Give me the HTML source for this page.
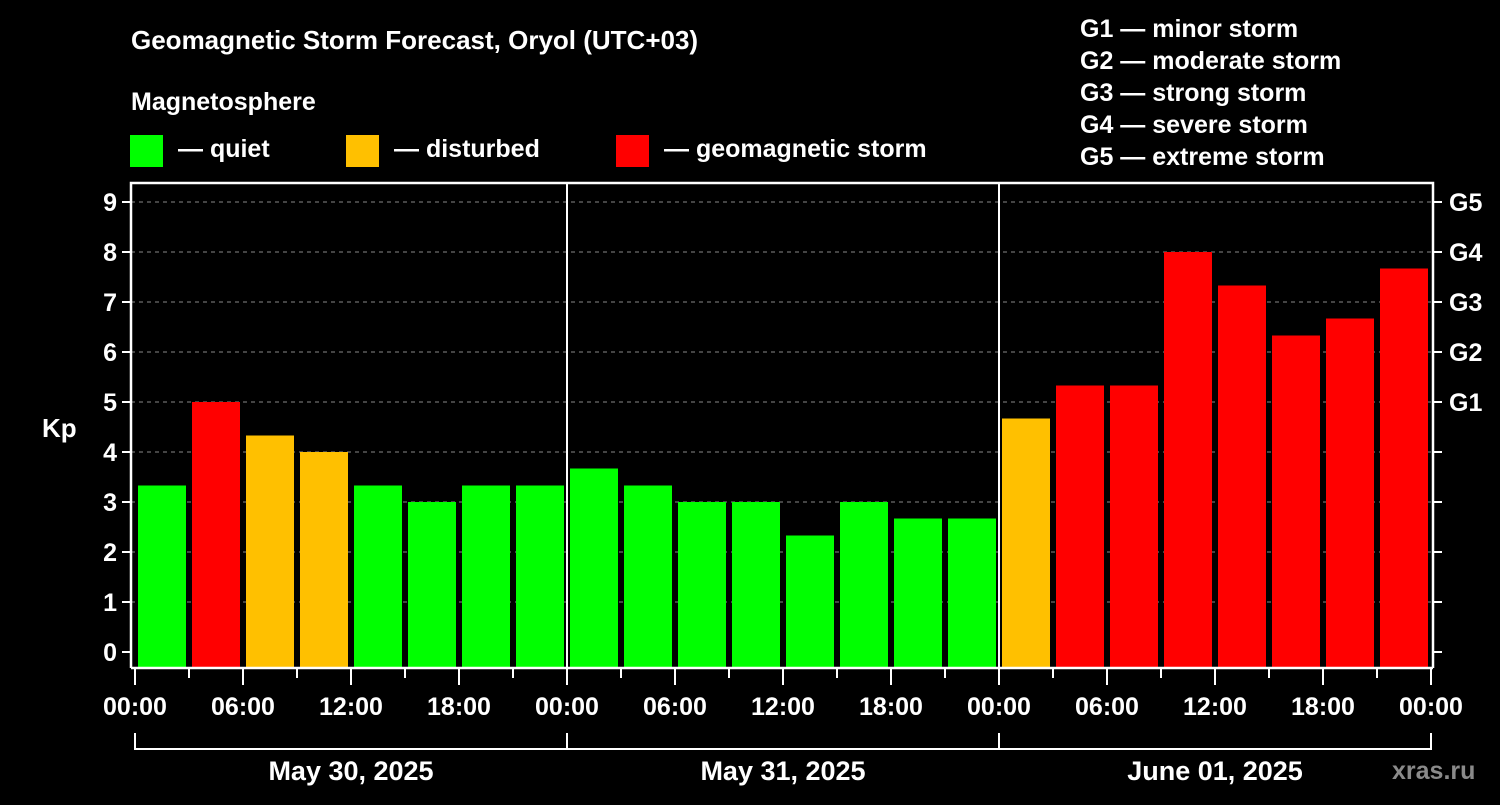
<!DOCTYPE html>
<html><head><meta charset="utf-8"><style>
body{margin:0;background:#000;width:1500px;height:800px;overflow:hidden}
svg text{font-family:"Liberation Sans",Arial,sans-serif;font-weight:bold;fill:#fff}
</style></head><body>
<svg id="c" width="1500" height="800" xmlns="http://www.w3.org/2000/svg">
<rect width="1500" height="800" fill="#000"/>
<text x="131" y="49" font-size="26">Geomagnetic Storm Forecast, Oryol (UTC+03)</text>
<text x="131" y="110" font-size="25">Magnetosphere</text>
<g><rect x="130" y="135" width="33" height="32" fill="#00ff00"/><text x="178" y="157" font-size="25">— quiet</text></g>
<g><rect x="346" y="135" width="33" height="32" fill="#ffc000"/><text x="394" y="157" font-size="25">— disturbed</text></g>
<g><rect x="616" y="135" width="33" height="32" fill="#ff0000"/><text x="664" y="157" font-size="25">— geomagnetic storm</text></g>
<g font-size="25">
<text x="1080" y="37">G1 — minor storm</text>
<text x="1080" y="69">G2 — moderate storm</text>
<text x="1080" y="101">G3 — strong storm</text>
<text x="1080" y="133">G4 — severe storm</text>
<text x="1080" y="165">G5 — extreme storm</text>
</g>
<text x="42" y="437" font-size="26">Kp</text>
<text x="1392" y="779" font-size="25" fill="#888" style="fill:#8a8a8a">xras.ru</text>
<g id="grid"></g><g id="bars"></g><g id="axes"></g>
</svg>
<script>
const kpValues=[3.33,5,4.33,4,3.33,3,3.33,3.33, 3.67,3.33,3,3,2.33,3,2.67,2.67, 4.67,5.33,5.33,8,7.33,6.33,6.67,7.67];
const yTicks=[0,1,2,3,4,5,6,7,8,9];
const gLabels=["","","","","","G1","G2","G3","G4","G5"];
const xTickLabels=["00:00","06:00","12:00","18:00","00:00","06:00","12:00","18:00","00:00","06:00","12:00","18:00","00:00"];
const dayLabels=["May 30, 2025","May 31, 2025","June 01, 2025"];
const NS="http://www.w3.org/2000/svg";
const L=131,R=1433,T=183,B=668,X0=135,HOURPX=18;
const y=v=>652-v*50;
const x=h=>X0+h*HOURPX;
function mk(tag,parent,attrs){const e=document.createElementNS(NS,tag);for(const k in attrs)e.setAttribute(k,attrs[k]);document.getElementById(parent).appendChild(e);return e;}
yTicks.forEach(v=>{if(v>0){const g=mk('line','grid',{x1:L,x2:R,y1:y(v),y2:y(v),stroke:'#888','stroke-dasharray':'4,4','stroke-width':1});

}});
kpValues.forEach((v,i)=>{const c=v>=5?'#ff0000':(v>=4?'#ffc000':'#00ff00');
const b=mk('rect','bars',{x:x(i*3)+3,y:y(v),width:48,height:B-y(v),fill:c});

});
const ax='axes';
mk('polyline',ax,{points:`${L},${B} ${L},${T} ${R},${T} ${R},${B}`,fill:'none',stroke:'#fff','stroke-width':2.5});
mk('line',ax,{x1:L,x2:R,y1:B,y2:B,stroke:'#fff','stroke-width':2.5});
[1,2].forEach(d=>mk('line',ax,{x1:x(d*24),x2:x(d*24),y1:T,y2:B,stroke:'#fff','stroke-width':2}));
yTicks.forEach((v,i)=>{
mk('line',ax,{x1:L-9,x2:L,y1:y(v),y2:y(v),stroke:'#fff','stroke-width':2});
mk('line',ax,{x1:R,x2:R+9,y1:y(v),y2:y(v),stroke:'#fff','stroke-width':2});
const t=mk('text',ax,{x:L-14,y:y(v)+9,'font-size':25,'text-anchor':'end'});t.textContent=v;


if(gLabels[i]){const g=mk('text',ax,{x:1449,y:y(v)+9,'font-size':25});g.textContent=gLabels[i];

}
});
for(let h=0;h<=72;h+=3){const maj=h%6===0;mk('line',ax,{x1:x(h),x2:x(h),y1:B,y2:B+(maj?17:10),stroke:'#fff','stroke-width':2});}
xTickLabels.forEach((s,i)=>{const t=mk('text',ax,{x:x(i*6),y:715,'font-size':25,'text-anchor':'middle'});t.textContent=s;

});
mk('line',ax,{x1:x(0),x2:x(72),y1:749,y2:749,stroke:'#fff','stroke-width':2});
for(let d=0;d<=3;d++)mk('line',ax,{x1:x(d*24),x2:x(d*24),y1:733,y2:750,stroke:'#fff','stroke-width':2});
dayLabels.forEach((s,i)=>{const t=mk('text',ax,{x:x(i*24+12),y:780,'font-size':27,'text-anchor':'middle'});t.textContent=s;

});
</script>
</body></html>
